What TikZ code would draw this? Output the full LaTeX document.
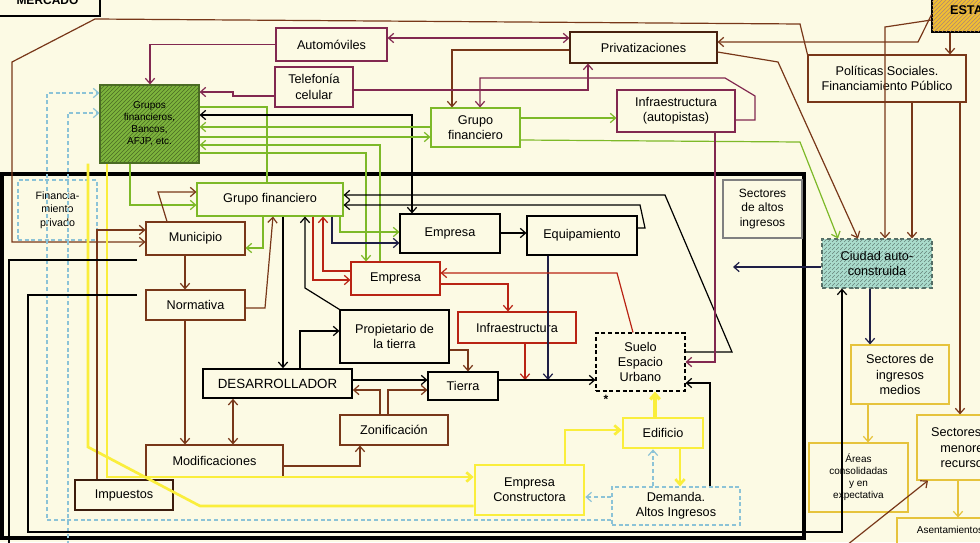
\documentclass[tikz,border=0pt]{standalone}
\usepackage{fontspec}
\setmainfont{Liberation Sans}
\usetikzlibrary{arrows.meta,patterns,calc}
\definecolor{bg}{RGB}{252,250,228}
\definecolor{mag}{RGB}{130,40,80}
\definecolor{brn}{RGB}{120,55,25}
\definecolor{red2}{RGB}{185,35,20}
\definecolor{grn}{RGB}{125,185,40}
\definecolor{yel}{RGB}{250,238,60}
\definecolor{lblue}{RGB}{140,195,215}
\definecolor{bblk}{RGB}{30,30,70}
\definecolor{gfill}{RGB}{125,180,60}
\definecolor{efill}{RGB}{240,190,50}
\definecolor{cfill}{RGB}{170,220,205}
\definecolor{ybox}{RGB}{230,195,60}
\tikzset{
  box/.style={draw, rectangle, align=center, inner sep=1pt, font=\fontsize{9.5}{11.5}\selectfont, line width=0.8pt},
  small/.style={font=\fontsize{7.5}{9}\selectfont},
  tip/.style={-{Straight Barb[length=4pt,width=7pt]}},
  tipb/.style={{Straight Barb[length=4pt,width=7pt]}-{Straight Barb[length=4pt,width=7pt]}},
  cn/.style={line width=0.9pt},
  yl/.style={yel, line width=2pt},
  lb/.style={lblue, line width=0.9pt, densely dashed},
}
\newcommand{\mkbox}[7]{%
  \pgfmathsetmacro{\mbcx}{(#2+#4)/2}%
  \pgfmathsetmacro{\mbcy}{(#3+#5)/2}%
  \pgfmathsetmacro{\mbw}{(#4-#2)*0.75}%
  \pgfmathsetmacro{\mbh}{(#5-#3)*0.75}%
  \node[box,#6,minimum width=\mbw pt,minimum height=\mbh pt] (#1) at (\mbcx,\mbcy) {#7};}
\begin{document}
\begin{tikzpicture}[x=0.75pt,y=-0.75pt]
\fill[bg] (0,0) rectangle (980,542);
\useasboundingbox (0,0) rectangle (980,542);
% big frame
\draw[line width=2.5pt] (2,174) rectangle (804,538);
% nodes
\mkbox{mer}{-5}{-15}{100}{16}{line width=1pt, font=\bfseries\fontsize{9}{10}\selectfont}{MERCADO}
\mkbox{est}{932}{-12}{1020}{32}{fill=efill, postaction={pattern=north east lines, pattern color=brn!60}, line width=1pt, font=\bfseries\fontsize{9.5}{11}\selectfont}{ESTADO}
\mkbox{auto}{276}{28}{387}{61}{draw=mag}{Automóviles}
\mkbox{tel}{275}{67}{353}{107}{draw=mag}{Telefonía\\celular}
\mkbox{priv}{570}{32}{717}{63}{draw=brn!60!black}{Privatizaciones}
\mkbox{gfb}{100}{85}{199}{163}{fill=gfill, postaction={pattern=north east lines, pattern color=gfill!60!black}, draw=gfill!60!black, small}{Grupos\\financieros,\\Bancos,\\AFJP, etc.}
\mkbox{gft}{431}{108}{520}{147}{draw=grn}{Grupo\\financiero}
\mkbox{infa}{617}{90}{735}{132}{draw=mag}{Infraestructura\\(autopistas)}
\mkbox{pol}{808}{55}{966}{102}{draw=brn}{Políticas Sociales.\\Financiamiento Público}
\mkbox{fin}{18}{180}{97}{240}{draw=lblue, densely dashed, font=\fontsize{8}{10}\selectfont}{Financia-\\miento\\privado}
\mkbox{gfi}{197}{183}{343}{216}{draw=grn}{Grupo financiero}
\mkbox{mun}{146}{222}{245}{255}{draw=brn}{Municipio}
\mkbox{nor}{146}{290}{245}{320}{draw=brn}{Normativa}
\mkbox{emp}{400}{214}{500}{253}{draw=black}{Empresa}
\mkbox{equ}{527}{216}{637}{255}{draw=black}{Equipamiento}
\mkbox{alt}{723}{180}{802}{238}{draw=black!50, font=\fontsize{9}{11}\selectfont}{Sectores\\de altos\\ingresos}
\mkbox{empr}{351}{262}{440}{295}{draw=red2}{Empresa}
\mkbox{prop}{340}{310}{449}{363}{draw=black}{Propietario de\\la tierra}
\mkbox{infr}{458}{312}{576}{343}{draw=red2}{Infraestructura}
\mkbox{suelo}{596}{333}{685}{391}{draw=black, densely dashed}{Suelo\\Espacio\\Urbano}
\mkbox{des}{203}{369}{352}{398}{draw=black, line width=1.2pt, font=\fontsize{10}{12}\selectfont}{DESARROLLADOR}
\mkbox{tie}{428}{372}{498}{400}{draw=black}{Tierra}
\mkbox{zon}{340}{415}{448}{445}{draw=brn}{Zonificación}
\mkbox{mod}{146}{445}{283}{477}{draw=brn}{Modificaciones}
\mkbox{imp}{75}{480}{173}{510}{draw=brn!50!black}{Impuestos}
\mkbox{edi}{623}{418}{703}{448}{draw=yel, line width=2pt}{Edificio}
\mkbox{ec}{475}{465}{584}{515}{draw=yel, line width=2pt}{Empresa\\Constructora}
\mkbox{dem}{612}{487}{740}{525}{draw=lblue, densely dashed}{Demanda.\\Altos Ingresos}
\mkbox{ciu}{822}{239}{932}{288}{fill=cfill, postaction={pattern=north east lines, pattern color=cfill!60!black}, draw=cfill!50!black, densely dashed}{Ciudad auto-\\construida}
\mkbox{med}{851}{345}{949}{404}{draw=ybox}{Sectores de\\ingresos\\medios}
\mkbox{are}{809}{443}{908}{512}{draw=ybox, small}{Áreas\\consolidadas\\y en\\expectativa}
\mkbox{men}{917}{415}{1013}{480}{draw=ybox}{Sectores de\\menores\\recursos}
\mkbox{ase}{897}{518}{1003}{550}{draw=ybox, small, text depth=6pt}{Asentamientos}
\node[font=\bfseries\small] (ast) at (606,399) {*};
% ---- outer mercado line and estado
\draw[cn,brn,tip] (pol.north west) -- (800,24) -- (95,19) -- (12,62) -- (12,242) -- (mun.west |- 0,242);
\draw[cn,brn,tip] (est.west |- 0,15) -- (918,42) -- (priv.east |- 0,42);
\draw[cn,brn,tip] (est.west |- 0,20) -- (885,27) -- (885,0 |- ciu.north);
\draw[cn,brn,tip] (950,0 |- est.south) -- (950,0 |- pol.north);
\draw[cn,brn,tip] (912,0 |- pol.south) -- (912,0 |- ciu.north);
\draw[cn,brn,tip] (960,0 |- pol.south) -- (960,0 |- men.north);
\draw[cn,brn,tip] (priv.east |- 0,52) -- (778,62) -- (858,0 |- ciu.north);
\draw[cn,grn,tip] (gft.east |- 0,140) -- (800,142) -- (838,0 |- ciu.north);
% ---- top
\draw[cn,mag,tip] (auto.west) -- (150,0 |- auto.west) -- (150,0 |- gfb.north);
\draw[cn,mag,tipb] (auto.east |- 0,38) -- (priv.west |- 0,38);
\draw[cn,brn,tip] (priv.west |- 0,50) -- (452,50) -- (452,0 |- gft.north);
\draw[cn,mag,tip] (tel.east |- 0,90) -- (588,90) -- (588,0 |- priv.south);
\draw[cn,mag,tip] (infa.east |- 0,120) -- (755,120) -- (755,96) -- (725,78) -- (480,78) -- (480,0 |- gft.north);
\draw[cn,mag,tip] (tel.west |- 0,96) -- (233,96) -- (233,92) -- (gfb.east |- 0,92);
\draw[cn,grn,tip] (gft.east |- 0,118) -- (infa.west |- 0,118);
% ---- grupos financieros
\draw[cn,grn] (gfb.east |- 0,107) -- (267,107) -- (267,0 |- gfi.north);
\draw[cn,black,tipb] (gfb.east |- 0,115) -- (412,115) -- (412,0 |- emp.north);
\draw[cn,grn,tip] (gft.west |- 0,127) -- (gfb.east |- 0,127);
\draw[cn,grn,tip] (gfb.east |- 0,137) -- (gft.west |- 0,137);
\draw[cn,grn,tip] (380,0 |- empr.north) -- (380,145) -- (gfb.east |- 0,145);
\draw[cn,grn,tip] (gfb.east |- 0,153) -- (366,153) -- (366,0 |- empr.north);
\draw[cn,grn,tip] (130,0 |- gfb.south) -- (130,205) -- (gfi.west |- 0,205);
\draw[yl] (88,0 |- gfb.south) -- (88,447) -- (200,506) -- (ec.west |- 0,506);
\draw[yl,tip] (107,0 |- gfb.south) -- (107,477) -- (ec.west |- 0,477);
\draw[lb,tip] (dem.west |- 0,520) -- (47,520) -- (47,93) -- (gfb.west |- 0,93);
\coordinate (lbfree) at (68,545);
\draw[lb,tip] (lbfree) -- (68,113) -- (gfb.west |- 0,113);
% ---- left part
\draw[cn,brn,tip] (97,0 |- imp.north) -- (97,230) -- (mun.west |- 0,230);
\draw[cn,brn,tip] (167,0 |- mun.north) -- (158,192) -- (gfi.west |- 0,192);
\draw[cn,grn,tip] (263,0 |- gfi.south) -- (263,248) -- (mun.east |- 0,248);
\draw[cn,brn,tip] (185,0 |- mun.south) -- (185,0 |- nor.north);
\draw[cn,brn,tip] (nor.east |- 0,308) -- (265,308) -- (273,0 |- gfi.south);
\draw[cn,brn,tip] (185,0 |- nor.south) -- (185,0 |- mod.north);
\draw[cn,brn,tipb] (233,0 |- des.south) -- (233,0 |- mod.north);
\draw[cn,brn,tip] (mod.east |- 0,466) -- (360,466) -- (360,0 |- zon.south);
\draw[cn,brn,tip] (380,0 |- zon.north) -- (380,390) -- (des.east |- 0,390);
\draw[cn,brn,tip] (388,0 |- zon.north) -- (388,390) -- (tie.west |- 0,390);
\draw[cn,black,tip] (des.east |- 0,380) -- (tie.west |- 0,380);
\draw[cn,black,tip] (283,0 |- gfi.south) -- (283,0 |- des.north);
\draw[cn,black,tip] (300,0 |- des.north) -- (300,331) -- (prop.west |- 0,331);
\draw[cn,black,tip] (prop.north west) -- (305,288) -- (305,0 |- gfi.south);
\draw[cn,red2,tip] (313,0 |- gfi.south) -- (313,280) -- (empr.west |- 0,280);
\draw[cn,red2,tip] (empr.west |- 0,271) -- (323,271) -- (323,0 |- gfi.south);
\draw[cn,bblk,tip] (332,0 |- gfi.south) -- (332,243) -- (emp.west |- 0,243);
\draw[cn,grn,tip] (340,0 |- gfi.south) -- (340,232) -- (emp.west |- 0,232);
% ---- middle right
\draw[cn,black,tip] (suelo.east |- 0,352) -- (732,352) -- (665,195) -- (gfi.east |- 0,195);
\draw[cn,black,tip] (equ.east |- 0,228) -- (645,228) -- (640,205) -- (gfi.east |- 0,205);
\draw[cn,black,tip] (emp.east |- 0,233) -- (equ.west |- 0,233);
\coordinate (ts1) at (548,380);
\coordinate (ts2) at (525,380);
\draw[cn,bblk,tip] (548,0 |- equ.south) -- (ts1);
\draw[cn,red2,tip] (525,0 |- infr.south) -- (ts2);
\draw[cn,red2,tip] (empr.east |- 0,284) -- (508,284) -- (508,0 |- infr.north);
\draw[cn,red2,tip] (633,0 |- suelo.north) -- (617,273) -- (empr.east |- 0,273);
\draw[cn,black,tip] (tie.east |- 0,380) -- (suelo.west |- 0,380);
\draw[cn,brn,tip] (prop.east |- 0,350) -- (468,350) -- (468,0 |- tie.north);
\draw[cn,mag,tip] (715,0 |- infa.south) -- (715,362) -- (suelo.east |- 0,362);
\draw[cn,black,tip] (710,0 |- dem.north) -- (710,383) -- (suelo.east |- 0,383);
\draw[yel,line width=2.5pt,tip] (655,0 |- edi.north) -- (655,0 |- suelo.south);
\draw[yl,tip] (565,0 |- ec.north) -- (565,430) -- (edi.west |- 0,430);
\draw[yl,tip] (680,0 |- edi.south) -- (680,0 |- dem.north);
\draw[lb,tip] (653,0 |- dem.north) -- (653,0 |- edi.south);
\draw[lb,tip] (dem.west |- 0,497) -- (ec.east |- 0,497);
% ---- right side
\coordinate (cfree) at (733,267);
\draw[cn,bblk,tip] (ciu.west |- 0,267) -- (cfree);
\draw[cn,bblk,tip] (870,0 |- ciu.south) -- (870,0 |- med.north);
\coordinate (nfree) at (137,295);
\draw[cn,black,tip] (nfree) -- (28,295) -- (28,532) -- (842,532) -- (842,0 |- ciu.south);
\coordinate (mfree) at (137,260);
\coordinate (mfree2) at (9,545);
\draw[cn,black] (mfree) -- (9,260) -- (mfree2);
\draw[ybox,line width=0.9pt,tip] (868,0 |- med.south) -- (868,0 |- are.north);
\draw[ybox,line width=0.9pt,tip] (958,0 |- men.south) -- (958,0 |- ase.north);
\coordinate (bfree) at (847,545);
\draw[cn,brn,tip] (bfree) -- (928,0 |- men.south);
\end{tikzpicture}
\end{document}
